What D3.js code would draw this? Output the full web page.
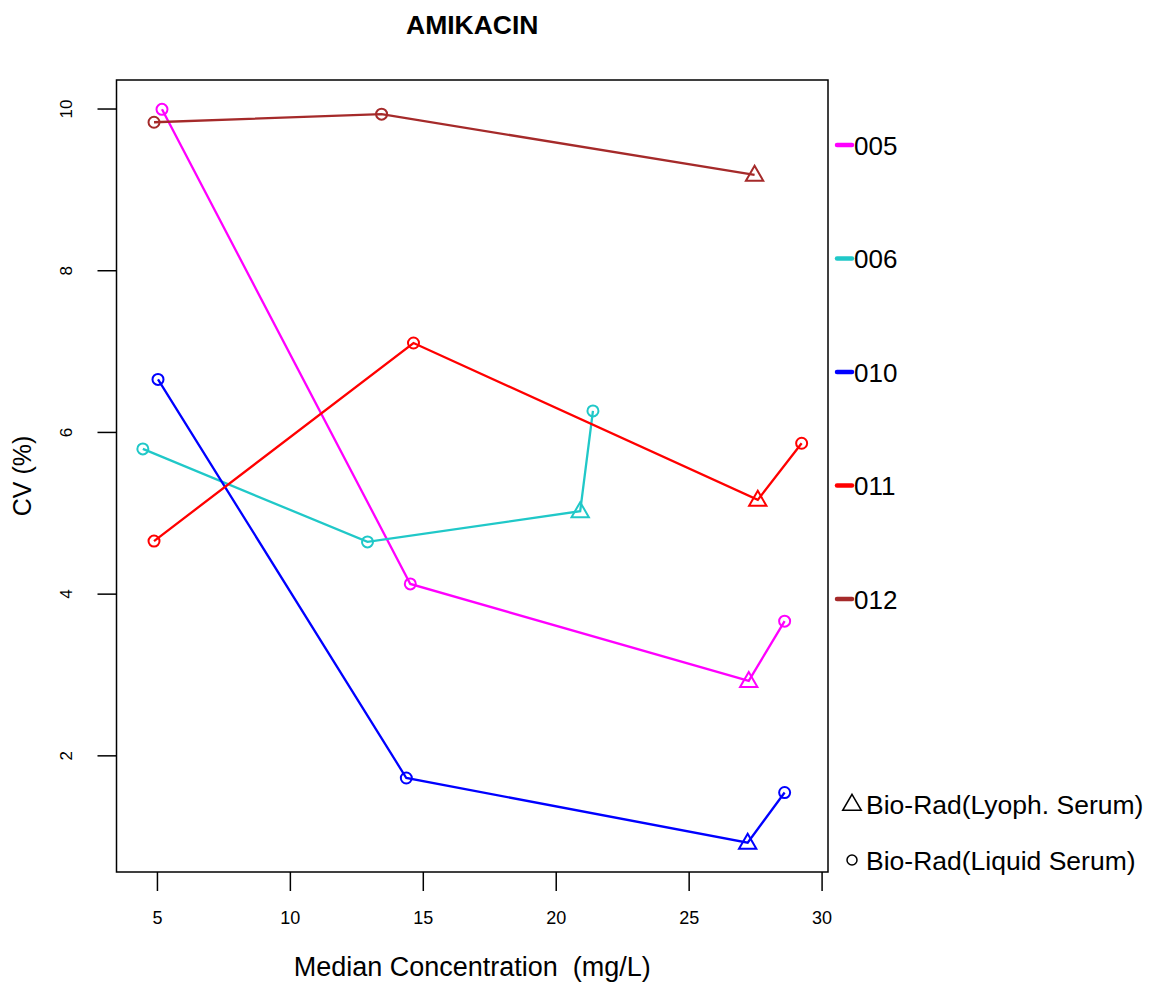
<!DOCTYPE html>
<html>
<head>
<meta charset="utf-8">
<script src="https://cdn.jsdelivr.net/npm/d3@7"></script>
<style>
  html, body { margin: 0; padding: 0; background: #fff; }
  svg { display: block; font-family: "Liberation Sans", Arial, sans-serif; }
</style>
</head>
<body>
<svg id="chart" width="1150" height="984"></svg>
<script>
// Laboratory series (legend order)
const labs = ["005", "006", "010", "011", "012"];
const labColors = ["#ff00ff", "#20c8c8", "#0000ff", "#ff0000", "#a52a2a"];

// Median concentration (mg/L) per control level, one array per lab
const conc005 = [5.19, 14.53, 27.26, 28.61];
const conc006 = [4.47, 12.92, 20.92, 21.40];
const conc010 = [5.04, 14.38, 27.22, 28.61];
const conc011 = [4.89, 14.65, 27.60, 29.25];
const conc012 = [4.89, 13.45, 27.48];

// CV (%) per control level
const cv005 = [9.99, 4.12, 2.92, 3.66];
const cv006 = [5.79, 4.64, 5.02, 6.26];
const cv010 = [6.65, 1.72, 0.92, 1.54];
const cv011 = [4.65, 7.10, 5.16, 5.86];
const cv012 = [9.83, 9.93, 9.18];

// Control material of each level: L = lyophilised serum, Q = liquid serum
const material005 = ["Q", "Q", "L", "Q"];
const material006 = ["Q", "Q", "L", "Q"];
const material010 = ["Q", "Q", "L", "Q"];
const material011 = ["Q", "Q", "L", "Q"];
const material012 = ["Q", "Q", "L"];

const xTicks = [5, 10, 15, 20, 25, 30];
const yTicks = [2, 4, 6, 8, 10];
const materialLabels = ["Bio-Rad(Lyoph. Serum)", "Bio-Rad(Liquid Serum)"];

const concs = [conc005, conc006, conc010, conc011, conc012];
const cvs = [cv005, cv006, cv010, cv011, cv012];
const materials = [material005, material006, material010, material011, material012];

const series = labs.map((lab, i) => ({
  lab,
  color: labColors[i],
  points: concs[i].map((x, j) => ({ x, y: cvs[i][j], m: materials[i][j] }))
}));

const svg = d3.select("#chart");
const box = { left: 116.5, right: 828, top: 80, bottom: 872 };

// Data extents padded by 4% on each side
function padded(values) {
  const [lo, hi] = d3.extent(values);
  const p = (hi - lo) * 0.04;
  return [lo - p, hi + p];
}
const x = d3.scaleLinear().domain(padded(concs.flat())).range([box.left, box.right]);
const y = d3.scaleLinear().domain(padded(cvs.flat())).range([box.bottom, box.top]);

// Title
svg.append("text")
  .attr("x", (box.left + box.right) / 2).attr("y", 34)
  .attr("text-anchor", "middle")
  .attr("font-size", 26.5).attr("font-weight", "bold")
  .text("AMIKACIN");

// Axes
const xAxis = svg.append("g")
  .attr("transform", `translate(0,${box.bottom})`)
  .call(d3.axisBottom(x).tickValues(xTicks).tickSize(19).tickPadding(0).tickFormat(d3.format("d")));
xAxis.select(".domain").remove();
xAxis.selectAll("line").attr("stroke", "#000").attr("stroke-width", 1.5);
xAxis.selectAll("text").attr("font-size", 18).attr("font-family", "Liberation Sans, Arial, sans-serif")
  .attr("fill", "#000").attr("y", 52).attr("dy", 0);

const yAxis = svg.append("g")
  .attr("transform", `translate(${box.left},0)`)
  .call(d3.axisLeft(y).tickValues(yTicks).tickSize(19).tickFormat(d3.format("d")));
yAxis.select(".domain").remove();
yAxis.selectAll("line").attr("stroke", "#000").attr("stroke-width", 1.5);
yAxis.selectAll("text")
  .attr("font-size", 17).attr("font-family", "Liberation Sans, Arial, sans-serif").attr("fill", "#000")
  .attr("x", null).attr("dy", null)
  .attr("text-anchor", "middle")
  .attr("transform", "translate(-45,0) rotate(-90)");

// Plot frame
svg.append("rect")
  .attr("x", box.left).attr("y", box.top)
  .attr("width", box.right - box.left).attr("height", box.bottom - box.top)
  .attr("fill", "none").attr("stroke", "#000").attr("stroke-width", 1.5);

// Axis titles
svg.append("text")
  .attr("transform", `translate(31,${(box.top + box.bottom) / 2}) rotate(-90)`)
  .attr("text-anchor", "middle").attr("font-size", 25)
  .text("CV (%)");
svg.append("text")
  .attr("x", (box.left + box.right) / 2).attr("y", 976)
  .attr("text-anchor", "middle").attr("font-size", 27)
  .text("Median Concentration\u00a0\u00a0(mg/L)");

// Lines and markers
const line = d3.line().x(d => x(d.x)).y(d => y(d.y));
const triangle = d3.symbol().type(d3.symbolTriangle).size(130);

const g = svg.append("g");
series.forEach(s => {
  g.append("path")
    .datum(s.points)
    .attr("d", line)
    .attr("fill", "none")
    .attr("stroke", s.color)
    .attr("stroke-width", 2.3);

  const pts = g.selectAll(null).data(s.points).enter();
  pts.filter(d => d.m === "Q").append("circle")
    .attr("cx", d => x(d.x)).attr("cy", d => y(d.y)).attr("r", 5.5)
    .attr("fill", "none").attr("stroke", s.color).attr("stroke-width", 2);
  pts.filter(d => d.m === "L").append("path")
    .attr("d", triangle)
    .attr("transform", d => `translate(${x(d.x)},${y(d.y) + 1})`)
    .attr("fill", "none").attr("stroke", s.color).attr("stroke-width", 2);
});

// Lab legend, outside the right edge of the frame
const legendY = d3.scalePoint().domain(labs).range([145, 599]);
const leg = svg.append("g");
series.forEach(s => {
  const yy = legendY(s.lab);
  leg.append("line")
    .attr("x1", 837).attr("x2", 852).attr("y1", yy).attr("y2", yy)
    .attr("stroke", s.color).attr("stroke-width", 4.5).attr("stroke-linecap", "round");
  leg.append("text")
    .attr("x", 854).attr("y", yy + 9.5)
    .attr("font-size", 26)
    .text(s.lab);
});

// Material legend
const matY = [804, 860];
leg.append("path")
  .attr("d", d3.symbol().type(d3.symbolTriangle).size(150))
  .attr("transform", `translate(852,${matY[0] + 1})`)
  .attr("fill", "none").attr("stroke", "#000").attr("stroke-width", 1.5);
leg.append("circle")
  .attr("cx", 852).attr("cy", matY[1]).attr("r", 5)
  .attr("fill", "none").attr("stroke", "#000").attr("stroke-width", 1.5);
materialLabels.forEach((t, i) => {
  leg.append("text")
    .attr("x", 866).attr("y", matY[i] + 9.5)
    .attr("font-size", 26.5)
    .text(t);
});
</script>
</body>
</html>
